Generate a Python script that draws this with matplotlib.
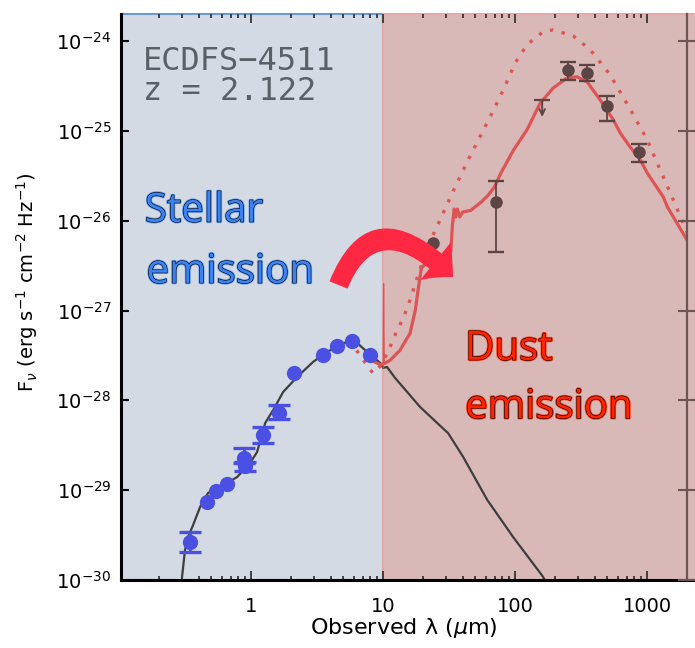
import numpy as np
import matplotlib
matplotlib.use('Agg')
import matplotlib.pyplot as plt
from matplotlib import patheffects as pe
from matplotlib.patches import FancyArrowPatch
from matplotlib.ticker import LogLocator, NullLocator, NullFormatter, FuncFormatter

# stellar template (observed frame)
stel_x = [0.300, 0.316, 0.333, 0.364, 0.411, 0.472, 0.658, 0.783, 0.983, 1.11, 1.28, 1.47,
          1.75, 2.23, 2.95, 3.77, 4.98, 6.35, 7.56, 9.49, 10.0, 10.7, 12.3, 19.1, 31.1,
          40.4, 61.4, 96.6, 163, 175]
stel_y = [1.08e-30, 2.16e-30, 3.0e-30, 4.1e-30, 6.5e-30, 9.3e-30, 1.2e-29, 1.4e-29, 2.0e-29,
          2.66e-29, 5.6e-29, 7.8e-29, 1.24e-28, 1.82e-28, 2.68e-28, 3.46e-28, 4.36e-28,
          4.36e-28, 3.46e-28, 2.61e-28, 2.3e-28, 2.35e-28, 1.78e-28, 8.4e-29, 4.3e-29,
          2.34e-29, 7.8e-30, 3.0e-30, 1.08e-30, 8.5e-31]

# dust model, best fit
dust_x = [7.5, 8.5, 9.5, 10.35, 11.3, 13.4, 16.0, 17.5, 18.4, 19.5, 21.0, 25.0, 30.0, 32.5,
          33.5, 34.5, 35.5, 36.5, 38.0, 40.0, 46.0, 55.0, 62.0, 70.0, 78.0, 97.0, 123, 155,
          194, 248, 295, 351, 441, 553, 624, 743, 885, 1000, 1322, 1418, 2000, 2300]
dust_y = [3.3e-28, 2.7e-28, 2.5e-28, 2.6e-28, 2.8e-28, 3.6e-28, 5.6e-28, 1.0e-27, 1.7e-27,
          3.0e-27, 3.3e-27, 3.6e-27, 4.0e-27, 4.5e-27, 9.0e-27, 1.35e-26, 1.1e-26, 1.35e-26,
          1.1e-26, 1.25e-26, 1.3e-26, 1.6e-26, 1.9e-26, 2.4e-26, 3.4e-26, 6.1e-26, 1.03e-25,
          2.05e-25, 3.0e-25, 3.9e-25, 4.0e-25, 3.5e-25, 2.2e-25, 1.33e-25, 9.5e-26, 6.6e-26,
          4.75e-26, 3.4e-26, 1.84e-26, 1.43e-26, 6.1e-27, 4.2e-27]

# PAH spike at the blue end of the dust model
pah_x = [10.0, 10.08, 10.2]
pah_y = [2.3e-28, 2.0e-27, 2.6e-28]

# dust model, dotted
dot_x = [6.3, 7.7, 8.4, 9.5, 10.9, 12.3, 13.4, 14.7, 16.0, 18.4, 20.8, 23.9, 27.0, 35.1, 44.0,
         55.0, 67.0, 80.0, 100, 123, 163, 194, 275, 370, 524, 770, 1000, 1494, 2000, 2300]
dot_y = [3.6e-28, 2.35e-28, 2.0e-28, 2.4e-28, 3.46e-28, 5.35e-28, 6.9e-28, 9.4e-28, 1.31e-27,
         2.5e-27, 4.16e-27, 6.95e-27, 1.02e-26, 2.38e-26, 4.75e-26, 9.0e-26, 1.59e-25,
         2.72e-25, 5.7e-25, 9.1e-25, 1.27e-24, 1.33e-24, 1.14e-24, 8.0e-25, 4.2e-25, 1.59e-25,
         7.9e-26, 2.04e-26, 7.5e-27, 4.6e-27]

# optical/NIR photometry
opt_x = [0.345, 0.464, 0.543, 0.658, 0.88, 0.90, 1.23, 1.63, 2.12, 3.51, 4.48, 5.82, 7.97]
opt_y = [2.65e-30, 7.4e-30, 9.8e-30, 1.17e-29, 2.3e-29, 1.85e-29, 4.1e-29, 7.2e-29, 2.0e-28,
         3.2e-28, 4.0e-28, 4.6e-28, 3.2e-28]
opt_lo = [0.6e-30, 0, 0, 0, 0.3e-29, 0.2e-29, 0.74e-29, 1.0e-29, 0, 0, 0, 0, 0]
opt_hi = [0.77e-30, 0, 0, 0, 0.65e-29, 0.2e-29, 0.96e-29, 1.6e-29, 0, 0, 0, 0, 0]

# mid/far-IR photometry
fir_x = [23.9, 71.8, 252, 351, 498, 869]
fir_y = [5.66e-27, 1.62e-26, 4.78e-25, 4.43e-25, 1.90e-25, 5.84e-26]
fir_lo = [0, 1.17e-26, 1.08e-25, 0.83e-25, 0.61e-25, 1.32e-26]
fir_hi = [0, 1.15e-26, 1.09e-25, 0.97e-25, 0.55e-25, 1.33e-26]

# upper limit
ulim_x = [160]
ulim_y = [2.2e-25]
ulim_tip = [1.43e-25]

xticks = [1, 10, 100, 1000]
yticks = [1e-30, 1e-29, 1e-28, 1e-27, 1e-26, 1e-25, 1e-24]

xmin, xmax = 0.1035, 2000
ymin, ymax = 1e-30, 2e-24

blue_bg = '#d3dae3'
pink_bg = '#d9b9b8'
red = '#dd5454'
brown = '#6e5555'
blue_pt = '#4a50e2'
brown_pt = '#5e4545'


def photometry(x, y, lo, hi, color, ms, capsize, lw):
    x, y, lo, hi = map(np.asarray, (x, y, lo, hi))
    has_err = (lo > 0) | (hi > 0)
    ax.errorbar(x[has_err], y[has_err], yerr=[lo[has_err], hi[has_err]], fmt='none',
                ecolor=color, capsize=capsize, elinewidth=lw, capthick=lw + 0.4, zorder=5)
    ax.plot(x, y, 'o', color=color, ms=ms, mew=0, zorder=5)


fig = plt.figure(figsize=(6.95, 6.48), dpi=100)
ax = fig.add_axes([121 / 695, 1 - 580 / 648, 566 / 695, 566 / 648])
ax.set_facecolor('none')
ax.set_xscale('log')
ax.set_yscale('log')

ax.axvspan(xmin, 10, facecolor=blue_bg, edgecolor='#6b9bd6', lw=1.5, zorder=0, clip_on=False)
ax.axvspan(10, 2600, facecolor=pink_bg, edgecolor='#e2a9a8', lw=1.5, zorder=0, clip_on=False)

ax.plot(stel_x, stel_y, color='#3e3e3e', lw=1.6, zorder=2)
ax.plot(dot_x, dot_y, color=red, lw=2.4, ls=(0, (1, 2.6)), zorder=3)
ax.plot(dust_x, dust_y, color=red, lw=2.3, zorder=3)
ax.plot(pah_x, pah_y, color=red, lw=0.9, zorder=3)

photometry(opt_x, opt_y, opt_lo, opt_hi, blue_pt, 11, 8, 2.0)
photometry(fir_x, fir_y, fir_lo, fir_hi, brown_pt, 9, 6, 1.3)

ax.plot(ulim_x, ulim_y, marker='_', ms=12, mew=1.6, color=brown_pt, ls='none', zorder=5)
for xu, yu, yt in zip(ulim_x, ulim_y, ulim_tip):
    ax.annotate('', xy=(xu, yt), xytext=(xu, yu),
                arrowprops=dict(arrowstyle='->', color=brown_pt, lw=1.4,
                                shrinkA=0, shrinkB=0, mutation_scale=10), zorder=5)

ax.set_xlim(xmin, xmax)
ax.set_ylim(ymin, ymax)

# axes styling
ax.spines['top'].set_visible(False)
ax.spines['right'].set_visible(False)
for s in ('left', 'bottom'):
    ax.spines[s].set_linewidth(2.2)
    ax.spines[s].set_color('black')
    ax.spines[s].set_zorder(6)
ax.spines['bottom'].set_bounds(xmin, 2600)

ax.set_xticks(xticks)
ax.xaxis.set_minor_locator(LogLocator(base=10, subs=np.arange(2, 10), numticks=20))
ax.xaxis.set_minor_formatter(NullFormatter())
ax.xaxis.set_major_formatter(FuncFormatter(lambda v, _: f'{v:g}'))
ax.set_yticks(yticks)
ax.yaxis.set_minor_locator(NullLocator())

ax.tick_params(axis='x', which='both', direction='in', top=True, bottom=True,
               color='#3a3333', width=1.3, labelsize=14, pad=12)
ax.tick_params(axis='x', which='major', length=6.5)
ax.tick_params(axis='x', which='minor', length=3.2)
ax.tick_params(axis='y', which='major', direction='in', left=True, right=False,
               color='black', width=1.5, length=6, labelsize=14, pad=7)

ax2 = ax.twinx()
ax2.set_yscale('log')
ax2.set_ylim(ymin, ymax)
ax2.set_yticks(yticks)
ax2.yaxis.set_minor_locator(NullLocator())
for s in ('left', 'top', 'bottom'):
    ax2.spines[s].set_visible(False)
ax2.spines['right'].set_color(brown)
ax2.spines['right'].set_linewidth(1.6)
ax2.tick_params(axis='y', which='major', direction='inout', length=13, width=1.5,
                color=brown, labelright=False)

ax.set_xlabel('Observed λ ($\\mu$m)', fontsize=16)
ax.xaxis.set_label_coords(0.5, -0.064)
ax.set_ylabel(r'F$_\nu$ (erg s$^{-1}$ cm$^{-2}$ Hz$^{-1}$)', fontsize=14)
ax.yaxis.set_label_coords(-0.143, 0.527)

# source name and redshift
ax.text(0.039, 0.901, 'ECDFS\u22124511', transform=ax.transAxes, family='DejaVu Sans Mono',
        fontsize=23, color='#5a6066', va='baseline', zorder=7)
ax.text(0.039, 0.848, 'z = 2.122', transform=ax.transAxes, family='DejaVu Sans Mono',
        fontsize=23, color='#5a6066', va='baseline', zorder=7)

# region annotations
blue_txt = '#3c82f0'
red_txt = '#ff2400'
fx_blue = [pe.Stroke(linewidth=2.0, foreground='#6aa0f2'), pe.Stroke(linewidth=0.8, foreground='black'), pe.Normal()]
fx_red = [pe.Stroke(linewidth=2.0, foreground='#ff4a24'), pe.Stroke(linewidth=0.8, foreground='black'), pe.Normal()]
ax.text(0.042, 0.633, 'Stellar', transform=ax.transAxes, family='Open Sans', fontsize=29,
        color=blue_txt, va='baseline', path_effects=fx_blue, zorder=7)
ax.text(0.045, 0.525, 'emission', transform=ax.transAxes, family='Open Sans', fontsize=29,
        color=blue_txt, va='baseline', path_effects=fx_blue, zorder=7)
ax.text(0.608, 0.389, 'Dust', transform=ax.transAxes, family='Open Sans', fontsize=29,
        color=red_txt, va='baseline', path_effects=fx_red, zorder=7)
ax.text(0.608, 0.286, 'emission', transform=ax.transAxes, family='Open Sans', fontsize=29,
        color=red_txt, va='baseline', path_effects=fx_red, zorder=7)

# curved arrow from the stellar to the dust side
arrow = FancyArrowPatch((338.5 / 695, 1 - 285 / 648), (453 / 695, 1 - 277 / 648),
                        transform=fig.transFigure,
                        connectionstyle='angle3,angleA=68,angleB=-45',
                        arrowstyle='simple,head_length=17,head_width=35,tail_width=14',
                        color='#fe2843', lw=0, shrinkA=0, shrinkB=0, zorder=10)
fig.add_artist(arrow)

fig.savefig('out.png', dpi=100)
